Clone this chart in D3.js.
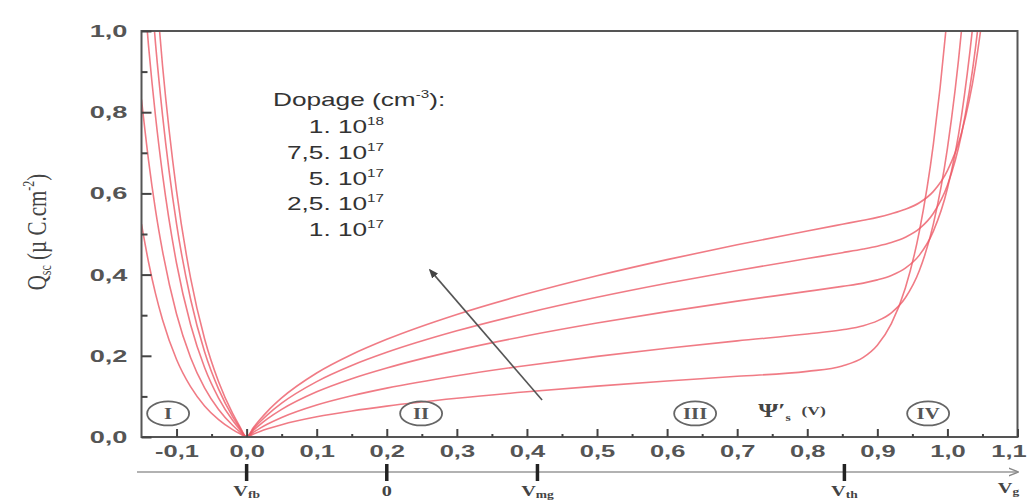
<!DOCTYPE html>
<html>
<head>
<meta charset="utf-8">
<script src="https://cdn.jsdelivr.net/npm/d3@7"></script>
<style>
  html, body { margin: 0; padding: 0; background: #fff; }
  svg { display: block; }
</style>
</head>
<body>
<svg id="chart" width="1030" height="502"></svg>
<script>
// Surface potential ψ's (V)
const psi = [-0.15,-0.14,-0.13,-0.12,-0.10,-0.08,-0.06,-0.04,-0.02,-0.01,0,
  0.01,0.02,0.03,0.05,0.10,0.15,0.20,0.30,0.40,0.50,0.60,0.70,0.80,0.85,0.88,
  0.90,0.92,0.94,0.96,0.98,1.00,1.02,1.04,1.06,1.08];

// Space charge Qsc (µC/cm²) for each doping level
const q1e18 = [1.66,1.364,1.118,0.915,0.606,0.392,0.242,0.136,0.0581,0.0270,0,
  0.0238,0.0449,0.0638,0.0962,0.1576,0.2032,0.2406,0.3019,0.3526,0.3971,0.4369,0.4735,0.5073,0.524,0.534,
  0.541,0.550,0.561,0.577,0.605,0.656,0.748,0.914,1.191,1.638];
const q75e17 = [1.44,1.182,0.969,0.793,0.525,0.340,0.210,0.118,0.0503,0.0234,0,
  0.0207,0.0389,0.0552,0.0834,0.1365,0.1761,0.2085,0.2615,0.3055,0.3440,0.3785,0.4102,0.4395,0.454,0.463,
  0.470,0.479,0.492,0.513,0.551,0.620,0.745,0.958,1.301,1.836];
const q5e17 = [1.174,0.964,0.790,0.647,0.428,0.277,0.171,0.096,0.0411,0.0191,0,
  0.0169,0.0318,0.0451,0.0680,0.1114,0.1437,0.1701,0.2134,0.2493,0.2807,0.3088,0.3347,0.3586,0.371,0.379,
  0.387,0.398,0.416,0.448,0.507,0.612,0.790,1.079,1.524,2.20];
const q25e17 = [0.831,0.682,0.559,0.458,0.303,0.196,0.121,0.0679,0.0290,0.0135,0,
  0.0119,0.0225,0.0319,0.0481,0.0788,0.1016,0.1203,0.1509,0.1763,0.1985,0.2185,0.2367,0.2537,0.264,0.274,
  0.286,0.306,0.343,0.410,0.525,0.711,1.000,1.44,2.09,3.06];
const q1e17 = [0.524,0.431,0.353,0.289,0.191,0.124,0.0766,0.0429,0.0183,0.0085,0,
  0.0075,0.0142,0.0201,0.0304,0.0498,0.0642,0.0760,0.0953,0.1113,0.1254,0.1379,0.1495,0.1617,0.175,0.196,
  0.226,0.279,0.367,0.507,0.722,1.044,1.52,2.24,3.28,4.83];

const series = [q1e18, q75e17, q5e17, q25e17, q1e17];

// Legend entries: mantissa and exponent
const legendMant = ["1. 10", "7,5. 10", "5. 10", "2,5. 10", "1. 10"];
const legendExp = ["18", "17", "17", "17", "17"];

// Axis ticks
const xMajor = [-0.1,0.0,0.1,0.2,0.3,0.4,0.5,0.6,0.7,0.8,0.9,1.0,1.1];
const xMinor = [-0.05,0.05,0.15,0.25,0.35,0.45,0.55,0.65,0.75,0.85,0.95,1.05];
const yMajor = [0.0,0.2,0.4,0.6,0.8,1.0];
const yMinor = [0.1,0.3,0.5,0.7,0.9];

// Regions and gate-voltage markers
const regionNames = ["I", "II", "III", "IV"];
const regionPsi = [-0.112, 0.249, 0.640, 0.9725];
const markerMain = ["V", "0", "V", "V"];
const markerSub = ["fb", "", "mg", "th"];
const markerPsi = [0.0, 0.2, 0.415, 0.853];

const svg = d3.select("#chart");
const x = d3.scaleLinear().domain([-0.15, 1.1]).range([141.5, 1017.5]);
const y = d3.scaleLinear().domain([0, 1]).range([437, 31]);

const fmt = v => v.toFixed(1).replace(".", ",");
const labelFont = "'Liberation Sans', Arial, sans-serif";
const serif = "'Liberation Serif', 'Times New Roman', serif";

svg.append("defs").append("clipPath").attr("id", "plot")
  .append("rect").attr("x", x(-0.15)).attr("y", y(1))
  .attr("width", x(1.1) - x(-0.15)).attr("height", y(0) - y(1));

// Curves
const line = d3.line()
  .x((d, i) => x(psi[i]))
  .y(d => y(d))
  .curve(d3.curveMonotoneX);

svg.append("g").attr("clip-path", "url(#plot)")
  .selectAll("path").data(series).join("path")
  .attr("d", line)
  .attr("fill", "none")
  .attr("stroke", "#ec5a66")
  .attr("stroke-opacity", 0.8)
  .attr("stroke-width", 1.6);

// Frame
svg.append("rect")
  .attr("x", x(-0.15)).attr("y", y(1))
  .attr("width", x(1.1) - x(-0.15)).attr("height", y(0) - y(1))
  .attr("fill", "none").attr("stroke", "#555").attr("stroke-width", 2);

// Y axis
const yAx = svg.append("g").attr("transform", `translate(${x(-0.15)},0)`)
  .call(d3.axisLeft(y).tickValues(yMajor).tickSize(-10).tickPadding(14).tickFormat(fmt));
svg.append("g").attr("transform", `translate(${x(-0.15)},0)`)
  .call(d3.axisLeft(y).tickValues(yMinor).tickSize(-6).tickFormat(""));

// X axis
const xAx = svg.append("g").attr("transform", `translate(0,${y(0)})`)
  .call(d3.axisBottom(x).tickValues(xMajor).tickSize(-8).tickPadding(8).tickFormat(fmt));
svg.append("g").attr("transform", `translate(0,${y(0)})`)
  .call(d3.axisBottom(x).tickValues(xMinor).tickSize(-3).tickFormat(""));

svg.selectAll(".domain").remove();
svg.selectAll(".tick line").attr("stroke", "#444").attr("stroke-width", 2);

yAx.selectAll(".tick text")
  .attr("transform", "translate(-14,0) scale(1.6,1)").attr("x", 0)
  .attr("font-family", labelFont).attr("font-size", 17).attr("font-weight", "bold")
  .attr("fill", "#555");
xAx.selectAll(".tick text")
  .attr("transform", (d, i) => `translate(${i === xMajor.length - 1 ? -9 : 0},8) scale(1.5,1)`)
  .attr("y", 0)
  .attr("font-family", labelFont).attr("font-size", 17).attr("font-weight", "bold")
  .attr("fill", "#555");

// Y title
const yt = svg.append("text")
  .attr("transform", "translate(46,232) rotate(-90) scale(1,1.35)")
  .attr("text-anchor", "middle")
  .attr("font-family", serif).attr("font-size", 21).attr("fill", "#444");
yt.append("tspan").text("Q");
yt.append("tspan").attr("font-size", 12).attr("dy", 4).text("sc");
yt.append("tspan").attr("dy", -4).text(" (µ C.cm");
yt.append("tspan").attr("font-size", 12).attr("dy", -9).text("-2");
yt.append("tspan").attr("dy", 9).text(")");

// Legend
const lg = svg.append("g").attr("font-family", labelFont).attr("fill", "#333");
const head = lg.append("text")
  .attr("transform", "translate(273,106) scale(1.38,1)")
  .attr("font-size", 19);
head.append("tspan").text("Dopage (cm");
head.append("tspan").attr("font-size", 11).attr("dy", -8).text("-3");
head.append("tspan").attr("dy", 8).text("):");

legendMant.forEach((m, i) => {
  const t = lg.append("text")
    .attr("transform", `translate(384,${133 + i * 25.8}) scale(1.38,1)`)
    .attr("text-anchor", "end").attr("font-size", 19);
  t.append("tspan").text(m);
  t.append("tspan").attr("font-size", 11).attr("dy", -8).text(legendExp[i]);
});

// Doping trend arrow
svg.append("defs").append("marker")
  .attr("id", "head").attr("viewBox", "0 0 10 10")
  .attr("refX", 8).attr("refY", 5)
  .attr("markerWidth", 6).attr("markerHeight", 6)
  .attr("orient", "auto")
  .append("path").attr("d", "M0,1 L10,5 L0,9 Z").attr("fill", "#444");
svg.append("line")
  .attr("x1", x(0.4216)).attr("y1", y(0.091))
  .attr("x2", x(0.2618)).attr("y2", y(0.411))
  .attr("stroke", "#555").attr("stroke-width", 1.6)
  .attr("marker-end", "url(#head)");

// Region markers
const rg = svg.append("g");
regionPsi.forEach((p, i) => {
  rg.append("ellipse")
    .attr("cx", x(p)).attr("cy", y(0.058))
    .attr("rx", 21).attr("ry", 12)
    .attr("fill", "none").attr("stroke", "#666").attr("stroke-width", 1.8);
  rg.append("text")
    .attr("transform", `translate(${x(p)},${y(0.058) + 6}) scale(1.3,1)`)
    .attr("text-anchor", "middle")
    .attr("font-family", serif).attr("font-weight", "bold").attr("font-size", 16)
    .attr("fill", "#555").text(regionNames[i]);
});

// Surface potential label
const pl = svg.append("text")
  .attr("transform", `translate(${x(0.73)},${y(0.049)}) scale(1.35,1)`)
  .attr("font-family", serif).attr("font-weight", "bold").attr("font-size", 19)
  .attr("fill", "#444");
pl.append("tspan").text("Ψ′");
pl.append("tspan").attr("font-size", 10).attr("dy", 4).text("s");
pl.append("tspan").attr("font-size", 13).attr("dy", -6).attr("dx", 8).text("(V)");

// Gate voltage axis
svg.append("defs").append("marker")
  .attr("id", "open").attr("viewBox", "0 0 10 10")
  .attr("refX", 9).attr("refY", 5)
  .attr("markerWidth", 10).attr("markerHeight", 10)
  .attr("markerUnits", "userSpaceOnUse")
  .attr("orient", "auto")
  .append("path").attr("d", "M0,1 L10,5 L0,9").attr("fill", "none")
  .attr("stroke", "#888").attr("stroke-width", 1.3);
svg.append("line")
  .attr("x1", 137).attr("y1", 472).attr("x2", x(1.1)).attr("y2", 472)
  .attr("stroke", "#999").attr("stroke-width", 1.6)
  .attr("marker-end", "url(#open)");

markerPsi.forEach((p, i) => {
  svg.append("line")
    .attr("x1", x(p)).attr("x2", x(p)).attr("y1", 464).attr("y2", 481)
    .attr("stroke", "#222").attr("stroke-width", 3.5);
  const t = svg.append("text")
    .attr("transform", `translate(${x(p)},496) scale(1.35,1)`)
    .attr("text-anchor", "middle")
    .attr("font-family", serif).attr("font-weight", "bold").attr("font-size", 15)
    .attr("fill", "#444");
  t.append("tspan").text(markerMain[i]);
  if (markerSub[i]) t.append("tspan").attr("font-size", 10).attr("dy", 2).text(markerSub[i]);
});
const vg = svg.append("text")
  .attr("transform", `translate(${x(1.1) - 9},493) scale(1.35,1)`)
  .attr("text-anchor", "middle")
  .attr("font-family", serif).attr("font-weight", "bold").attr("font-size", 15)
  .attr("fill", "#444");
vg.append("tspan").text("V");
vg.append("tspan").attr("font-size", 10).attr("dy", 2).text("g");
</script>
</body>
</html>
